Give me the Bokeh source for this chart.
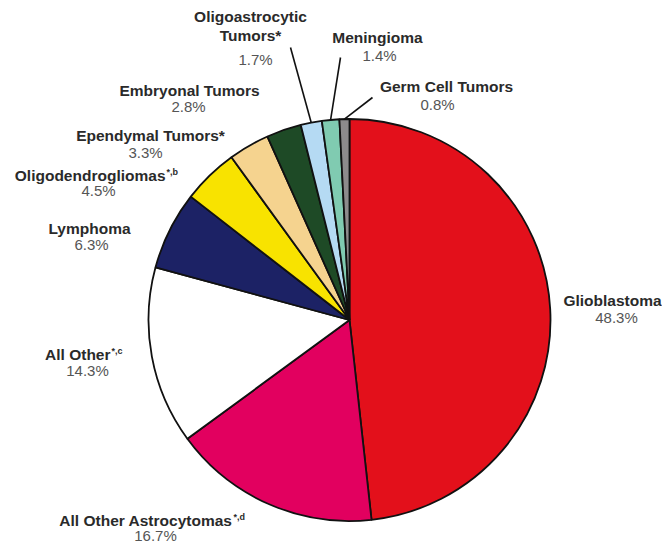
import numpy as np
from bokeh.plotting import figure
from bokeh.models import Range1d, ColumnDataSource
from bokeh.core.properties import value
from bokeh.embed import file_html
from bokeh.resources import INLINE

# ---- data ----
categories = ["Glioblastoma", "All Other Astrocytomas", "All Other", "Lymphoma",
              "Oligodendrogliomas", "Ependymal Tumors", "Embryonal Tumors",
              "Oligoastrocytic Tumors", "Meningioma", "Germ Cell Tumors"]
percents = [48.3, 16.7, 14.3, 6.3, 4.5, 3.3, 2.8, 1.7, 1.4, 0.8]
name_lines = [["Glioblastoma"], ["All Other Astrocytomas"], ["All Other"], ["Lymphoma"],
              ["Oligodendrogliomas"], ["Ependymal Tumors*"], ["Embryonal Tumors"],
              ["Oligoastrocytic", "Tumors*"], ["Meningioma"], ["Germ Cell Tumors"]]
superscripts = ["", "*,d", "*,c", "", "*,b", "", "", "", "", ""]
colors = ["#e3101b", "#e2005f", "#ffffff", "#1c2265", "#f8e300", "#f5d38f",
          "#1e4a26", "#b5daf3", "#80cbb1", "#8d8b8c"]

# ---- layout (image pixel coords, y down) ----
W, H = 662, 544
CX, CY, R = 349, 319.5, 201
# name lines anchor: (x, y, align)
name_pos = [
    [(612, 300, "center")],
    [(232, 520, "right")],
    [(110, 354, "right")],
    [(89, 228, "center")],
    [(165, 175, "right")],
    [(150, 135, "center")],
    [(189, 90, "center")],
    [(250, 16, "center"), (250, 35, "center")],
    [(377, 37, "center")],
    [(446, 86, "center")],
]
pct_pos = [(616, 317), (155, 535), (87, 370), (91, 244), (98, 190), (145, 152),
           (188, 106), (255, 59), (379, 55), (437, 104)]
# leader lines: outer end for small slices
leader_end = {7: (290, 47), 8: (340, 57), 9: (372, 97)}

def fy(y):
    return H - y

p = figure(width=W, height=H, output_backend="svg", toolbar_location=None,
           x_range=Range1d(0, W), y_range=Range1d(0, H), min_border=0)
p.axis.visible = False
p.grid.visible = False
p.outline_line_color = None
p.background_fill_color = "white"
p.border_fill_color = "white"

vals = np.array(percents, dtype=float)
frac = vals / vals.sum()
cum = np.concatenate([[0], np.cumsum(frac)])
start = np.pi / 2 - cum[:-1] * 2 * np.pi
end = np.pi / 2 - cum[1:] * 2 * np.pi

src = ColumnDataSource(dict(start=start, end=end, color=colors, cat=categories))
p.wedge(x=CX, y=fy(CY), radius=R, start_angle="start", end_angle="end",
        direction="clock", fill_color="color", line_color="#111111", line_width=1.8,
        source=src)

# leader lines
mid = (start + end) / 2
x0s, y0s, x1s, y1s = [], [], [], []
for i, (ex, ey) in leader_end.items():
    x0s.append(CX + R * np.cos(mid[i]))
    y0s.append(fy(CY) + R * np.sin(mid[i]))
    x1s.append(ex)
    y1s.append(fy(ey))
p.segment(x0=x0s, y0=y0s, x1=x1s, y1=y1s, line_color="#111111", line_width=1.6)

FONT = value("Liberation Sans")
for i in range(len(categories)):
    for line, (x, y, al) in zip(name_lines[i], name_pos[i]):
        p.text(x=[x], y=[fy(y)], text=[line], text_font=FONT, text_font_size="15.5px",
               text_font_style="bold", text_color="#2a2a2a", text_align=al,
               text_baseline="middle")
    if superscripts[i]:
        x, y, al = name_pos[i][-1]
        p.text(x=[x + 1], y=[fy(y - 4)], text=[superscripts[i]], text_font=FONT,
               text_font_size="9px", text_font_style="bold", text_color="#2a2a2a",
               text_align="left", text_baseline="middle")
    px, py = pct_pos[i]
    p.text(x=[px], y=[fy(py)], text=[f"{percents[i]:.1f}%"], text_font=FONT,
           text_font_size="15px", text_color="#555555", text_align="center",
           text_baseline="middle")

open("out.html", "w").write(file_html(p, INLINE))
